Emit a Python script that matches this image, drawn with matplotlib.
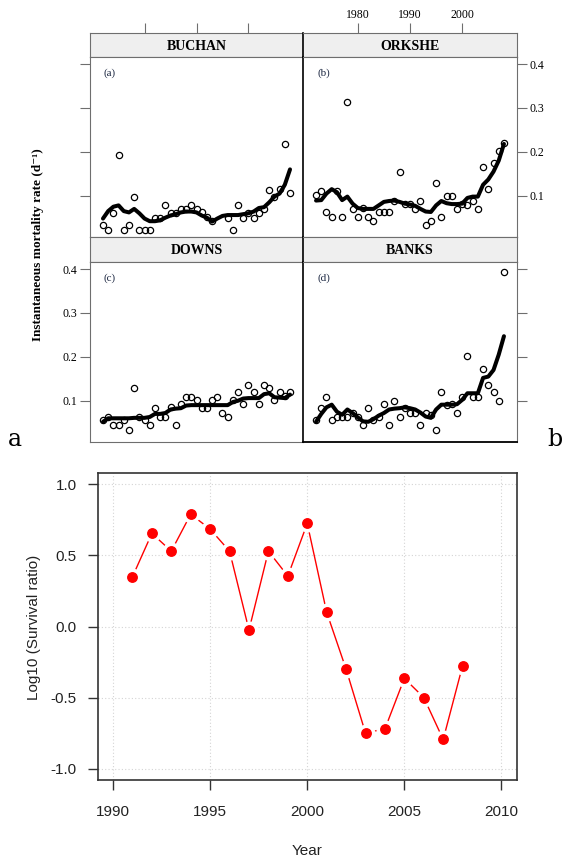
import numpy as np
import matplotlib.pyplot as plt

plt.rcParams['axes.unicode_minus'] = False

nan = np.nan
years = np.arange(1972, 2009)

# mortality rate observations (open circles) and smoothed fit (thick line)
buchan_obs = [0.033, 0.023, 0.061, 0.192, 0.023, 0.033, 0.098, 0.023, 0.023, 0.023,
              0.050, 0.050, 0.078, 0.061, 0.061, 0.070, 0.070, 0.078, 0.070, 0.062,
              0.051, 0.042, nan, nan, 0.050, 0.023, 0.078, 0.050, 0.061, 0.050,
              0.061, 0.070, 0.114, 0.098, 0.115, 0.217, 0.107]
buchan_fit = [0.048, 0.065, 0.075, 0.078, 0.065, 0.062, 0.070, 0.060, 0.048, 0.042,
              0.042, 0.044, 0.050, 0.055, 0.058, 0.062, 0.064, 0.064, 0.062, 0.055,
              0.050, 0.041, 0.048, 0.054, 0.056, 0.056, 0.056, 0.058, 0.060, 0.064,
              0.072, 0.074, 0.085, 0.098, 0.105, 0.125, 0.160]

orkshe_obs = [0.101, 0.110, 0.064, 0.052, 0.110, 0.052, 0.313, 0.070, 0.052, 0.073,
              0.052, 0.042, 0.063, 0.063, 0.063, 0.089, 0.155, 0.082, 0.082, 0.070,
              0.089, 0.034, 0.042, 0.130, 0.052, 0.099, 0.099, 0.070, 0.082, 0.080,
              0.089, 0.070, 0.165, 0.116, 0.174, 0.203, 0.220]
orkshe_fit = [0.089, 0.090, 0.105, 0.115, 0.108, 0.090, 0.098, 0.082, 0.072, 0.070,
              0.070, 0.070, 0.078, 0.086, 0.088, 0.089, 0.086, 0.082, 0.080, 0.077,
              0.070, 0.064, 0.063, 0.078, 0.088, 0.083, 0.081, 0.081, 0.082, 0.095,
              0.098, 0.098, 0.125, 0.137, 0.155, 0.180, 0.218]

downs_obs = [0.055, 0.064, 0.044, 0.044, 0.055, 0.034, 0.129, 0.064, 0.055, 0.044,
             0.083, 0.064, 0.064, 0.085, 0.044, 0.092, 0.108, 0.108, 0.101, 0.083,
             0.083, 0.101, 0.108, 0.072, 0.064, 0.101, 0.120, 0.092, 0.136, 0.120,
             0.092, 0.136, 0.129, 0.101, 0.120, 0.110, 0.120]
downs_fit = [0.052, 0.060, 0.060, 0.060, 0.060, 0.060, 0.061, 0.061, 0.061, 0.063,
             0.070, 0.070, 0.072, 0.080, 0.082, 0.083, 0.089, 0.090, 0.090, 0.090,
             0.090, 0.090, 0.090, 0.090, 0.090, 0.097, 0.100, 0.105, 0.106, 0.106,
             0.106, 0.115, 0.117, 0.108, 0.107, 0.106, 0.114]

banks_obs = [0.055, 0.083, 0.108, 0.055, 0.064, 0.064, 0.064, 0.072, 0.064, 0.044,
             0.083, 0.055, 0.064, 0.092, 0.044, 0.100, 0.064, 0.083, 0.072, 0.072,
             0.044, 0.072, 0.068, 0.034, 0.120, 0.091, 0.092, 0.072, 0.108, 0.201,
             0.108, 0.108, 0.173, 0.136, 0.120, 0.100, 0.394]
banks_fit = [0.052, 0.070, 0.085, 0.091, 0.075, 0.068, 0.080, 0.072, 0.062, 0.053,
             0.052, 0.058, 0.066, 0.072, 0.080, 0.082, 0.083, 0.085, 0.083, 0.080,
             0.073, 0.064, 0.061, 0.080, 0.091, 0.091, 0.091, 0.092, 0.102, 0.117,
             0.117, 0.117, 0.152, 0.155, 0.170, 0.205, 0.247]

# lower chart
surv_years = np.arange(1991, 2009)
surv_log10 = [0.35, 0.655, 0.53, 0.79, 0.685, 0.53, -0.025, 0.53, 0.355, 0.725,
              0.10, -0.30, -0.75, -0.72, -0.365, -0.50, -0.795, -0.275]

W, H = 564, 859
fig = plt.figure(figsize=(W / 100, H / 100), dpi=100)


def box(x0, y0, x1, y1):
    return [x0 / W, 1 - y1 / H, (x1 - x0) / W, (y1 - y0) / H]


serif = ['Liberation Serif', 'DejaVu Serif']
sans = ['Liberation Sans', 'DejaVu Sans']
frame = '#6e6e6e'
xlim = (1969.5, 2010.5)
ylim = (0.006, 0.416)


def panel(name, tag, obs, fit, x0, x1, ys, side, ylab, toplab, right_col, bottom_row):
    s0, s1, p1 = ys
    strip = fig.add_axes(box(x0, s0, x1, s1))
    strip.set_facecolor('#efefef')
    strip.set_xlim(*xlim)
    strip.set_yticks([])
    strip.text(0.5, 0.45, name, transform=strip.transAxes, ha='center', va='center',
               family=serif, fontweight='bold', fontsize=10)
    if s0 < 100:
        strip.xaxis.tick_top()
        strip.set_xticks([1980, 1990, 2000])
        strip.tick_params(axis='x', direction='out', length=7, width=0.8, color=frame,
                          labelsize=8.5, pad=2, labeltop=toplab)
        for lab in strip.get_xticklabels():
            lab.set_family(serif)
    else:
        strip.set_xticks([])
    for sp in strip.spines.values():
        sp.set_color(frame)
        sp.set_linewidth(0.8)

    ax = fig.add_axes(box(x0, s1, x1, p1))
    ax.plot(years, obs, 'o', mfc='none', mec='black', ms=4.5, mew=0.9)
    ax.plot(years, fit, color='black', lw=2.9, solid_capstyle='round')
    ax.set_xlim(*xlim)
    ax.set_ylim(*ylim)
    ax.set_xticks([])
    ax.set_yticks([0.1, 0.2, 0.3, 0.4])
    if side == 'left':
        ax.yaxis.tick_left()
    else:
        ax.yaxis.tick_right()
    ax.tick_params(axis='y', direction='out', length=7, width=0.8, color=frame,
                   labelsize=8.5, pad=2, labelleft=(ylab and side == 'left'),
                   labelright=(ylab and side == 'right'))
    for lab in ax.get_yticklabels():
        lab.set_family(serif)
    for sp in ax.spines.values():
        sp.set_color(frame)
        sp.set_linewidth(0.8)
    if right_col:
        ax.spines['left'].set_color('black')
        ax.spines['left'].set_linewidth(1.2)
        strip.spines['left'].set_color('black')
        strip.spines['left'].set_linewidth(1.2)
        if bottom_row:
            ax.spines['bottom'].set_color('black')
            ax.spines['bottom'].set_linewidth(1.3)
    fig.text((x0 + 14) / W, 1 - (s1 + 16) / H, tag, family=serif, fontsize=8,
             color='#1f2a44', ha='left', va='center')


row1 = (33, 57, 237)
row2 = (237, 262, 442)
panel('BUCHAN', '(a)', buchan_obs, buchan_fit, 90, 303, row1, 'left', False, False, False, False)
panel('ORKSHE', '(b)', orkshe_obs, orkshe_fit, 303, 517, row1, 'right', True, True, True, False)
panel('DOWNS', '(c)', downs_obs, downs_fit, 90, 303, row2, 'left', True, False, False, True)
panel('BANKS', '(d)', banks_obs, banks_fit, 303, 517, row2, 'right', False, False, True, True)

fig.text(38 / W, 1 - 245 / H, 'Instantaneous mortality rate (d\u207b\u00b9)', rotation=90,
         family=serif, fontweight='bold', fontsize=9.5, ha='center', va='center')

fig.text(8 / W, 1 - 446 / H, 'a', family='DejaVu Serif', fontsize=17, va='baseline')
fig.text(547 / W, 1 - 446 / H, 'b', family='DejaVu Serif', fontsize=17, va='baseline')

# survival ratio panel
ax = fig.add_axes(box(97.5, 473, 517, 780))
ax.set_xlim(1989.2, 2010.8)
ax.set_ylim(-1.08, 1.08)
ax.set_xticks([1990, 1995, 2000, 2005, 2010])
ax.set_yticks([-1.0, -0.5, 0.0, 0.5, 1.0])
ax.set_yticklabels(['-1.0', '-0.5', '0.0', '0.5', '1.0'])
ax.grid(color='#d4d4d4', linestyle=(0, (1, 2)), lw=0.8)
ax.set_axisbelow(True)
ax.plot(surv_years, surv_log10, color='red', lw=1, zorder=3)
ax.plot(surv_years, surv_log10, 'o', color='white', ms=12, ls='none', zorder=4)
ax.plot(surv_years, surv_log10, 'o', color='red', ms=6.8, ls='none', zorder=5)
ax.tick_params(axis='x', direction='out', length=7, width=1, color='#333333',
               labelsize=11, labelcolor='#222222', pad=11)
ax.tick_params(axis='y', direction='out', length=7, width=1, color='#333333',
               labelsize=11, labelcolor='#222222', pad=8)
for lab in ax.get_xticklabels() + ax.get_yticklabels():
    lab.set_family(sans)
for sp in ax.spines.values():
    sp.set_color('#333333')
    sp.set_linewidth(1.2)

fig.text(307 / W, 1 - 851 / H, 'Year', family=sans, fontsize=11, color='#222222',
         ha='center', va='center')
fig.text(34 / W, 1 - 627 / H, 'Log10 (Survival ratio)', family=sans, fontsize=11,
         color='#222222', rotation=90, ha='center', va='center')

fig.savefig('out.png', dpi=100)
